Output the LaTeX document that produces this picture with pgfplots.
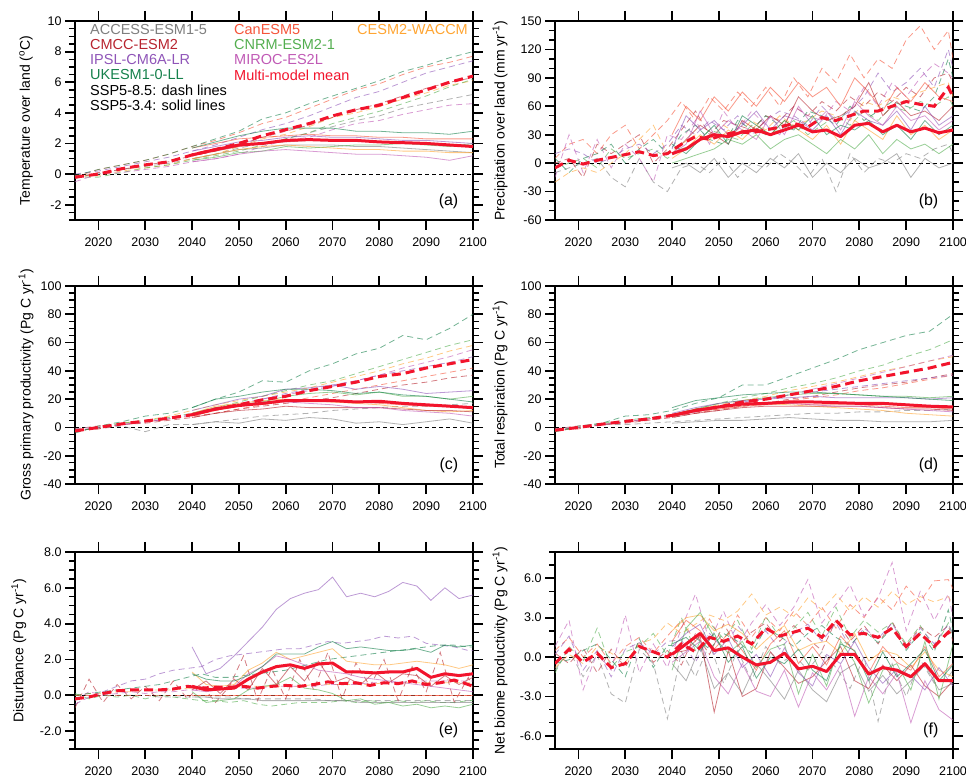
\documentclass[border=0pt]{standalone}
\usepackage{fontspec}
\setmainfont{Liberation Sans}
\usepackage{pgfplots}
\usepackage{pgfplotstable}
\pgfplotsset{compat=1.18}

\definecolor{cAC}{HTML}{7F7F7F}
\definecolor{cCAN}{HTML}{F5543A}
\definecolor{cCE}{HTML}{FFA532}
\definecolor{cCM}{HTML}{B7242F}
\definecolor{cCN}{HTML}{53AE4F}
\definecolor{cIP}{HTML}{8F55B8}
\definecolor{cMI}{HTML}{C05AB5}
\definecolor{cUK}{HTML}{16814C}
\definecolor{cMM}{HTML}{F2142C}

% ---------- (a) temperature ----------
\pgfplotstableread{
yr ac can ce cm cn ip mi uk mm
2015 -0.1 -0.2 -0.1 -0.3 -0.2 0.0 -0.5 -0.1 -0.2
2020 0.0 0.3 -0.1 0.1 -0.2 0.2 0.0 0.3 0.0
2025 0.3 0.6 0.2 0.3 0.1 0.5 0.1 0.6 0.35
2030 0.5 0.9 0.4 0.6 0.4 0.8 0.3 0.9 0.6
2035 0.7 1.3 0.6 0.8 0.6 1.1 0.5 1.3 0.8
2040 1.0 1.8 1.0 1.2 0.9 1.5 0.8 1.8 1.25
2045 1.3 2.2 1.3 1.5 1.2 1.9 1.0 2.3 1.6
2050 1.7 2.7 1.8 1.9 1.5 2.4 1.3 2.8 2.0
2055 2.0 3.3 2.3 2.4 1.9 2.9 1.8 3.6 2.5
2060 2.3 3.7 2.6 2.8 2.3 3.3 2.2 4.0 2.9
2065 2.7 4.3 3.1 3.2 2.7 3.8 2.4 4.6 3.3
2070 3.1 4.9 3.7 3.7 3.3 4.4 2.9 5.1 3.8
2075 3.5 5.5 4.0 4.2 3.7 5.0 3.3 5.6 4.2
2080 3.8 5.9 4.4 4.6 4.1 5.4 3.5 6.1 4.5
2085 4.3 6.5 4.9 5.1 4.6 6.0 3.9 6.7 5.0
2090 4.6 7.0 5.3 5.6 5.1 6.6 4.2 7.1 5.5
2095 4.9 7.3 5.8 6.0 5.7 7.0 4.5 7.6 6.0
2100 5.2 7.7 6.1 6.3 6.2 7.4 4.6 8.0 6.4
}\tasA
\pgfplotstableread{
yr ac can ce cm cn ip mi uk mm
2040 1.0 1.7 1.0 1.2 0.9 1.5 0.8 1.7 1.25
2045 1.3 2.0 1.3 1.5 1.1 1.8 1.0 2.1 1.6
2050 1.6 2.3 1.6 1.8 1.4 2.1 1.3 2.5 1.9
2055 1.7 2.4 1.8 2.0 1.5 2.2 1.5 2.8 2.0
2060 1.9 2.5 1.9 2.1 1.8 2.4 1.6 3.0 2.2
2065 1.9 2.6 1.8 2.2 1.7 2.5 1.5 3.0 2.25
2070 1.9 2.5 1.7 2.2 1.8 2.4 1.4 3.0 2.2
2075 1.8 2.5 1.6 2.2 1.9 2.4 1.3 2.8 2.2
2080 1.8 2.4 1.6 2.1 1.9 2.3 1.3 2.8 2.1
2085 1.7 2.4 1.5 2.1 2.0 2.2 1.2 2.7 2.05
2090 1.6 2.3 1.5 2.0 1.9 2.2 1.1 2.7 2.0
2095 1.5 2.3 1.4 1.9 1.8 2.1 0.9 2.6 1.9
2100 1.4 2.3 1.4 1.8 2.0 2.0 1.2 2.8 1.8
}\tbsA

% ---------- (b) precipitation ----------
\pgfplotstableread{
yr ac can ce cm cn ip mi uk mm
2015 -10 5 -20 0 -5 10 -15 5 -5
2018 -5 20 -10 5 0 15 30 -10 3
2021 0 25 -5 -15 5 10 -10 5 -1
2024 5 10 -10 20 -5 0 25 10 3
2027 -15 30 0 10 15 5 -5 20 6
2030 -25 40 10 20 5 15 20 0 9
2033 5 15 25 30 10 20 5 15 12
2036 -20 30 40 0 15 10 -20 25 8
2039 -30 45 10 15 5 20 30 10 10
2042 -5 65 20 35 15 40 25 30 20
2045 0 45 30 55 20 30 45 40 28
2048 -10 70 25 30 35 45 20 25 25
2051 5 55 40 45 30 35 55 20 30
2054 -15 75 30 40 25 50 35 45 33
2057 0 60 45 35 40 30 55 35 32
2060 -5 80 35 50 30 45 40 50 35
2063 10 60 50 45 35 55 30 40 38
2066 0 90 40 60 45 50 60 35 42
2069 -15 70 45 50 30 40 50 55 38
2072 5 100 55 65 40 60 45 50 48
2075 -30 85 50 55 50 45 65 40 45
2078 10 115 45 70 40 55 55 60 50
2081 -10 90 65 60 55 70 80 45 55
2084 5 110 60 75 45 95 60 55 55
2087 0 100 70 65 60 75 85 65 60
2090 10 130 65 80 55 85 70 60 65
2093 5 145 75 70 65 100 90 55 62
2096 15 120 80 90 60 80 105 70 60
2099 20 140 85 95 70 120 95 110 80
2100 10 110 70 85 60 100 90 90 70
}\tasB
\pgfplotstableread{
yr ac can ce cm cn ip mi uk mm
2040 -5 30 5 10 0 15 10 20 10
2043 0 60 15 25 5 50 20 10 15
2046 -10 45 30 40 10 35 55 25 25
2049 5 70 20 30 15 45 30 40 30
2052 -15 55 35 20 25 30 45 20 28
2055 0 75 25 45 20 40 35 50 33
2058 -10 60 40 35 30 55 25 40 35
2061 5 80 30 50 15 35 50 30 30
2064 -5 65 45 40 25 50 30 45 35
2067 10 85 35 70 30 45 60 35 40
2070 -15 70 25 55 20 35 40 50 33
2073 0 80 40 45 10 50 55 30 35
2076 -10 60 20 50 25 30 35 40 28
2079 5 90 45 60 15 55 65 35 40
2082 -5 75 35 85 30 45 50 45 42
2085 0 55 25 50 10 40 40 30 33
2088 10 80 50 65 25 55 60 40 40
2091 -15 65 30 50 15 35 45 25 33
2094 5 85 40 55 20 60 50 45 37
2097 -5 70 25 45 10 40 35 30 32
2100 0 65 35 60 20 50 45 40 35
}\tbsB

% ---------- (c) GPP ----------
\pgfplotstableread{
yr ac can ce cm cn ip mi uk mm
2015 -2 -3 -1 -2 -3 -1 -2 -4 -2.5
2020 -1 0 1 -1 0 1 0 1 0
2025 1 2 3 2 3 2 2 4 2.5
2030 -3 4 5 3 5 4 4 8 4.5
2035 2 6 8 5 7 6 6 10 6.5
2040 2 8 12 7 10 9 9 14 9
2045 4 10 16 10 14 13 12 20 13
2050 6 13 19 13 18 17 16 25 16
2055 8 16 22 15 22 20 20 33 19.5
2060 9 18 25 17 26 24 23 32 22
2065 10 21 28 19 30 27 26 40 26
2070 12 24 32 21 33 30 29 45 29
2075 13 27 36 24 38 33 33 52 32
2080 14 30 40 27 43 37 37 56 36
2085 15 33 45 30 48 40 42 65 38
2090 15 36 49 32 53 43 46 62 42
2095 16 39 54 35 58 46 50 70 45
2100 17 42 58 37 62 50 55 80 48
}\tasC
\pgfplotstableread{
yr ac can ce cm cn ip mi uk mm
2040 2 8 10 7 10 12 9 14 9
2045 4 12 15 10 14 16 13 20 13
2050 3 15 17 12 16 20 15 22 15.5
2055 6 17 19 13 18 22 17 25 17
2060 5 19 20 15 22 27 18 27 19
2065 7 19 19 14 24 28 17 27 19
2070 6 18 18 14 25 30 16 26 19
2075 3 18 17 14 23 27 14 24 18
2080 4 17 16 14 25 29 14 25 18.5
2085 2 16 14 13 22 27 12 23 17
2090 4 15 12 12 22 24 11 22 16
2095 6 15 11 12 20 25 10 20 15
2100 3 13 12 11 22 26 8 18 14
}\tbsC

% ---------- (d) respiration ----------
\pgfplotstableread{
yr ac can ce cm cn ip mi uk mm
2015 -2 -2 -1 -2 -3 -1 -2 -3 -2
2020 0 0 1 -1 0 1 0 1 0
2025 2 2 2 2 3 2 2 3 2.3
2030 2 4 4 3 5 4 4 8 4.3
2035 3 6 6 5 7 6 6 9 6
2040 4 8 9 7 9 9 8 12 8.5
2045 5 10 13 10 13 12 11 17 12
2050 6 13 16 12 17 15 14 21 14.5
2055 7 15 19 15 21 18 17 30 18
2060 8 17 22 17 24 20 20 30 20
2065 9 19 26 20 28 23 23 36 23
2070 10 21 29 22 31 25 27 42 26
2075 10 23 32 25 35 27 31 48 29
2080 11 26 36 28 40 29 35 55 33
2085 11 28 40 30 44 31 39 60 36
2090 12 31 43 32 50 33 43 65 39
2095 12 34 47 35 55 35 47 68 42
2100 13 37 50 38 62 37 51 80 46
}\tasD
\pgfplotstableread{
yr ac can ce cm cn ip mi uk mm
2040 3 8 9 7 9 10 8 14 8.5
2045 4 11 13 10 13 14 11 19 12
2050 5 13 15 12 17 17 14 21 14.5
2055 5 15 17 14 19 19 16 23 16.5
2060 6 16 17 15 21 20 17 24 17
2065 7 17 16 15 23 21 17 25 18
2070 6 16 15 15 24 22 16 25 18
2075 5 16 14 15 24 21 15 24 17.5
2080 5 16 13 15 23 21 15 23 17
2085 4 15 12 14 22 21 14 22 17
2090 4 14 10 13 22 21 13 21 16
2095 4 14 9 13 21 20 12 20 15
2100 5 13 8 12 22 21 11 19 14.5
}\tbsD

% ---------- (e) disturbance ----------
\pgfplotstableread{
yr ac can ce cm cn ip mi uk mm
2015 0.0 0 0.0 -0.7 0.1 -0.5 -0.3 0.0 -0.2
2018 0.0 0 0.1 0.9 -0.2 -0.1 0.2 0.1 -0.1
2021 0.0 0 0.1 -0.4 0.0 0.2 0.0 0.2 0.1
2024 0.0 0 0.2 0.6 -0.1 0.5 0.1 0.3 0.25
2027 0.0 0 0.2 -0.2 0.0 0.8 0.2 0.4 0.3
2030 0.0 0 0.3 0.5 -0.2 0.9 0.1 0.5 0.3
2033 -0.1 0 0.3 -0.3 0.0 1.2 0.2 0.6 0.3
2036 -0.1 0 0.3 0.8 -0.1 1.4 0.2 0.8 0.35
2039 -0.1 0 0.4 -0.2 -0.2 1.5 0.3 1.0 0.5
2042 -0.1 0 0.4 0.6 -0.3 1.6 0.3 1.2 0.4
2045 -0.1 0 0.4 -0.4 -0.3 2.0 0.3 1.0 0.45
2048 -0.1 0 0.4 0.5 -0.4 2.2 0.4 1.0 0.45
2051 -0.2 0 0.5 2.2 -0.3 2.3 0.4 1.1 0.5
2054 -0.2 0 0.5 -0.3 -0.5 2.4 0.4 1.2 0.4
2057 -0.2 0 0.5 1.5 -0.6 2.5 0.5 1.3 0.5
2060 -0.2 0 0.5 -0.2 -0.5 2.6 0.5 1.4 0.55
2063 -0.2 0 0.5 2.0 -0.4 2.6 0.5 1.6 0.5
2066 -0.2 0 0.6 0.3 -0.4 2.8 0.5 1.8 0.6
2069 -0.3 0 0.6 2.4 -0.4 3.0 0.6 2.0 0.75
2072 -0.3 0 0.6 -0.2 -0.3 2.9 0.6 2.1 0.65
2075 -0.3 0 0.6 1.8 -0.4 3.0 0.6 2.2 0.7
2078 -0.3 0 0.6 0.5 -0.3 3.1 0.7 2.3 0.55
2081 -0.3 0 0.7 2.0 -0.4 3.3 0.7 2.4 0.7
2084 -0.3 0 0.7 -0.3 -0.3 3.2 0.7 2.5 0.65
2087 -0.3 0 0.7 1.6 -0.4 3.3 0.8 2.6 0.8
2090 -0.3 0 0.7 0.2 -0.3 2.9 0.8 2.7 0.6
2093 -0.3 0 0.7 2.4 -0.4 2.8 0.8 2.8 0.7
2096 -0.3 0 0.7 -0.4 -0.4 2.7 0.8 2.8 0.85
2099 -0.3 0 0.7 1.0 -0.3 2.5 0.8 2.7 0.6
2100 -0.3 0 0.7 0.4 -0.3 2.5 0.8 2.7 0.5
}\tasE
\pgfplotstableread{
yr ac can ce cm cn ip mi uk mm
2040 -0.1 0 1.3 0.3 0.2 2.7 0.3 1.2 0.5
2043 -0.1 0 0.6 0.8 -0.4 1.2 0.2 0.9 0.3
2046 -0.2 0 0.5 0.1 -0.3 1.5 0.3 0.8 0.35
2049 -0.2 0 0.6 0.9 -0.2 2.2 0.5 0.8 0.4
2052 -0.2 0 1.4 0.3 0.3 3.0 1.2 1.1 0.9
2055 -0.3 0 1.8 1.5 0.5 3.8 1.6 1.6 1.3
2058 -0.3 0 2.4 0.6 0.6 4.8 2.2 2.3 1.6
2061 -0.3 0 2.0 1.6 1.0 5.4 2.0 2.3 1.7
2064 -0.3 0 2.2 0.8 0.4 5.7 1.7 2.3 1.5
2067 -0.3 0 2.4 1.9 0.3 5.9 1.4 2.7 1.75
2070 -0.3 0 2.6 0.7 0.1 6.6 1.3 3.0 1.8
2073 -0.3 0 1.9 1.0 -0.3 5.5 1.2 2.6 1.3
2076 -0.4 0 1.8 0.6 -0.2 5.7 1.0 2.7 1.3
2079 -0.4 0 1.7 1.3 -0.5 5.5 0.9 2.6 1.25
2082 -0.4 0 1.7 0.7 -0.4 5.8 0.8 2.5 1.3
2085 -0.4 0 1.8 1.2 -0.6 6.3 0.7 2.5 1.3
2088 -0.4 0 1.9 1.1 -0.5 6.1 0.6 2.6 1.5
2091 -0.4 0 1.8 0.5 -0.7 5.3 0.5 2.4 1.0
2094 -0.4 0 1.7 1.1 -0.6 6.0 0.4 2.8 1.2
2097 -0.4 0 1.5 0.6 -0.7 5.4 0.3 2.7 1.1
2100 -0.4 0 1.7 1.0 -0.5 5.6 0.2 2.8 1.2
}\tbsE

% ---------- (f) NBP ----------
\pgfplotstableread{
yr ac can ce cm cn ip mi uk mm
2015 -1.0 0.5 -0.8 0.3 -1.2 0.2 0.8 -0.5 -0.5
2018 0.5 1.5 0.2 -0.5 0.8 1.6 2.8 -0.2 0.6
2021 -1.5 0.0 -0.5 0.7 -0.3 -1.0 -2.5 0.5 -0.4
2024 0.2 1.0 0.8 -1.2 2.2 0.5 0.3 1.0 0.3
2027 -2.8 -0.5 0.3 0.6 -0.8 -1.5 -1.0 -0.2 -0.8
2030 -3.5 0.8 -0.4 -0.8 0.4 0.6 3.2 -1.5 -0.5
2033 0.6 1.5 1.0 1.2 0.8 1.1 -1.2 1.4 0.8
2036 -0.5 0.3 1.4 -0.4 1.8 0.2 1.0 -0.8 0.4
2039 -4.7 1.6 2.6 0.5 0.1 1.2 -0.8 0.9 0.0
2042 0.4 2.8 1.8 -0.6 3.0 1.3 2.2 0.8 1.0
2045 -1.5 1.2 2.5 1.8 0.5 -0.4 4.8 1.5 0.4
2048 1.0 2.9 3.2 0.2 2.6 1.8 1.2 0.6 1.5
2051 -2.0 1.0 2.8 2.5 1.4 0.6 3.5 1.8 1.2
2054 0.5 3.2 3.5 0.8 2.8 2.4 0.9 1.2 1.6
2057 -1.8 1.5 4.8 1.9 0.6 1.0 2.6 0.3 1.0
2060 0.8 3.0 3.2 2.6 3.1 2.0 4.0 2.2 2.2
2063 -0.5 2.0 3.8 1.2 1.5 0.6 2.4 1.6 1.6
2066 0.2 3.5 3.1 2.4 2.2 1.8 3.8 0.8 1.9
2069 -1.0 2.4 4.5 1.4 3.4 2.5 5.9 1.8 2.2
2072 0.4 3.8 3.6 0.5 1.6 1.2 2.6 2.4 1.5
2075 -0.8 2.2 4.8 2.8 3.8 2.6 4.0 1.5 2.8
2078 -2.4 4.0 3.5 1.2 1.5 0.8 5.5 0.9 1.7
2081 0.0 3.0 4.6 2.4 2.8 2.2 3.1 2.0 1.8
2084 -4.9 4.6 3.8 1.0 1.9 1.4 4.5 1.1 1.5
2087 -0.5 3.6 5.0 2.7 2.6 2.6 7.2 2.2 2.2
2090 -3.0 5.4 4.0 0.8 1.0 0.6 2.0 0.5 0.8
2093 -0.2 4.2 4.6 2.3 2.4 2.2 5.0 1.9 1.8
2096 -2.0 5.8 4.2 1.5 0.7 1.0 2.8 0.4 0.8
2099 -1.5 5.9 4.6 2.4 2.6 2.5 4.8 3.6 1.9
2100 -1.0 5.2 4.0 1.2 1.5 1.8 3.0 2.0 1.5
}\tasF
\pgfplotstableread{
yr ac can ce cm cn ip mi uk mm
2040 -0.5 1.2 2.0 0.3 -1.0 0.8 -0.4 1.0 0.2
2043 -1.8 2.8 3.0 0.5 2.2 1.8 0.4 1.5 1.0
2046 0.8 2.0 3.2 1.6 3.4 2.5 1.2 0.5 1.8
2049 -2.4 0.6 2.0 -4.2 1.5 0.2 -1.5 1.8 0.5
2052 -1.2 1.8 2.5 0.5 0.3 1.4 -2.8 -0.4 0.7
2055 -2.8 0.5 1.8 -3.0 1.2 -0.8 -0.5 0.8 0.0
2058 -0.5 -1.0 0.6 -2.4 -0.8 0.2 -2.6 -1.6 -0.6
2061 -1.8 1.0 1.6 0.4 0.6 -1.5 -3.0 0.0 -0.4
2064 -3.2 2.0 2.4 -0.8 1.0 0.7 -1.0 -0.5 0.3
2067 -1.0 -0.5 0.5 -2.0 -2.8 -1.2 -3.8 0.6 -0.9
2070 -2.5 0.8 1.0 -1.5 0.2 -2.2 -1.2 -1.0 -0.7
2073 -3.4 -0.6 1.2 -0.3 -2.2 0.2 -2.5 -1.8 -1.1
2076 -1.2 1.6 0.3 0.8 1.2 -0.5 -0.6 1.0 0.2
2079 -0.5 0.4 1.8 -1.8 -0.4 1.2 -4.5 0.5 0.2
2082 -2.6 -1.2 -0.3 -2.4 -3.5 -0.8 -1.5 -1.8 -1.3
2085 -1.4 0.8 0.5 -0.6 -1.0 -2.0 -2.8 0.4 -0.8
2088 -2.8 -0.4 0.2 -1.8 -0.5 -0.9 -1.2 -1.5 -1.0
2091 -1.8 -1.0 -0.8 -0.6 -2.5 -1.4 -5.0 -0.5 -1.5
2094 -0.6 0.8 0.4 -2.2 1.2 -2.5 -1.8 0.6 -0.5
2097 -2.5 -1.5 -1.0 -3.0 -3.2 -0.8 -4.0 -1.8 -1.8
2100 -2.0 -0.5 -1.5 -1.8 1.0 -2.2 -4.8 -0.6 -1.8
}\tbsF

\pgfplotsset{
  m85/.style={line width=0.8pt, opacity=0.6, dash pattern=on 6pt off 4pt},
  m34/.style={line width=0.8pt, opacity=0.6},
  mean85/.style={cMM, line width=3pt, dash pattern=on 9pt off 5pt},
  mean34/.style={cMM, line width=3pt, line join=round},
  panel/.style={
    scale only axis, width=398pt, height=198pt,
    xmin=2015, xmax=2100,
    xtick={2020,2030,...,2100},
    no markers,
    tick pos=both, tick align=outside,
    major tick length=10pt, minor tick length=6pt,
    every tick/.style={black},
    major tick style={line width=1.8pt},
    minor tick style={line width=1.4pt},
    axis line style={line width=1.8pt},
    ticklabel style={font=\fontsize{12.5}{14}\selectfont},
    xticklabel style={yshift=-4pt},
    /pgf/number format/assume math mode=true,
    /pgf/number format/1000 sep={},
    every axis y label/.style={at={(axis description cs:-0.123,0.5)}, rotate=90, anchor=center,
      font=\fontsize{14}{16}\selectfont},
  },
}

\newcommand\drawall[2]{%
  \addplot[black, line width=0.7pt, dash pattern=on 4pt off 3pt] coordinates {(2015,0) (2100,0)};
  \addplot[m85, cAC] table[x=yr,y=ac]{#1};
  \addplot[m85, cCAN] table[x=yr,y=can]{#1};
  \addplot[m85, cCE] table[x=yr,y=ce]{#1};
  \addplot[m85, cCM] table[x=yr,y=cm]{#1};
  \addplot[m85, cCN] table[x=yr,y=cn]{#1};
  \addplot[m85, cIP] table[x=yr,y=ip]{#1};
  \addplot[m85, cMI] table[x=yr,y=mi]{#1};
  \addplot[m85, cUK] table[x=yr,y=uk]{#1};
  \addplot[m34, cAC] table[x=yr,y=ac]{#2};
  \addplot[m34, cCAN] table[x=yr,y=can]{#2};
  \addplot[m34, cCE] table[x=yr,y=ce]{#2};
  \addplot[m34, cCM] table[x=yr,y=cm]{#2};
  \addplot[m34, cCN] table[x=yr,y=cn]{#2};
  \addplot[m34, cIP] table[x=yr,y=ip]{#2};
  \addplot[m34, cMI] table[x=yr,y=mi]{#2};
  \addplot[m34, cUK] table[x=yr,y=uk]{#2};
  \addplot[mean85] table[x=yr,y=mm]{#1};
  \addplot[mean34] table[x=yr,y=mm]{#2};
}
\newcommand\plab[1]{\node[anchor=east, font=\fontsize{16}{18}\selectfont] at (rel axis cs:0.972,0.095) {#1};}

\begin{document}
\begin{tikzpicture}[x=1pt, y=1pt]
\useasboundingbox (0,0) rectangle (966,782);

% (a)
\begin{axis}[panel, at={(75pt,562pt)}, anchor=south west, height=199pt,
  ymin=-3, ymax=10, ytick={-2,0,...,10}, minor ytick={-3,-2.5,...,10},
  ylabel={Temperature over land (\textsuperscript{o}C)}]
\drawall{\tasA}{\tbsA}
\plab{(a)}
\end{axis}

% (b)
\begin{axis}[panel, at={(555pt,562pt)}, anchor=south west, height=199pt,
  ymin=-60, ymax=150, ytick={-60,-30,...,150}, minor ytick={-60,-50,...,150},
  every axis y label/.append style={at={(axis description cs:-0.138,0.5)}},
  ylabel={Precipitation over land (mm yr\textsuperscript{-1})}]
\drawall{\tasB}{\tbsB}
\plab{(b)}
\end{axis}

% (c)
\begin{axis}[panel, at={(75pt,298pt)}, anchor=south west,
  ymin=-40, ymax=100, ytick={-40,-20,...,100}, minor ytick={-40,-35,...,100},
  ylabel={Gross primary productivity (Pg C yr\textsuperscript{-1})}]
\drawall{\tasC}{\tbsC}
\plab{(c)}
\end{axis}

% (d)
\begin{axis}[panel, at={(555pt,298pt)}, anchor=south west,
  ymin=-40, ymax=100, ytick={-40,-20,...,100}, minor ytick={-40,-35,...,100},
  every axis y label/.append style={at={(axis description cs:-0.138,0.5)}},
  ylabel={Total respiration (Pg C yr\textsuperscript{-1})}]
\drawall{\tasD}{\tbsD}
\plab{(d)}
\end{axis}

% (e)
\begin{axis}[panel, at={(75pt,33pt)}, anchor=south west, height=197pt,
  ymin=-3, ymax=8, ytick={-2,0,...,8}, minor ytick={-3,-2.5,...,8},
  yticklabel style={/pgf/number format/.cd, fixed, fixed zerofill, precision=1},
  every axis y label/.append style={at={(axis description cs:-0.141,0.5)}},
  ylabel={Disturbance (Pg C yr\textsuperscript{-1})}]
\drawall{\tasE}{\tbsE}
\plab{(e)}
\end{axis}

% (f)
\begin{axis}[panel, at={(555pt,33pt)}, anchor=south west, height=197pt,
  ymin=-7, ymax=8, ytick={-6,-3,...,6}, minor ytick={-7,-6,...,8},
  yticklabel style={/pgf/number format/.cd, fixed, fixed zerofill, precision=1},
  every axis y label/.append style={at={(axis description cs:-0.138,0.5)}},
  ylabel={Net biome productivity (Pg C yr\textsuperscript{-1})}]
\drawall{\tasF}{\tbsF}
\plab{(f)}
\end{axis}

% legend text of panel (a)
\begin{scope}[every node/.style={anchor=west, inner sep=0pt, font=\fontsize{14.5}{16}\selectfont}]
\node[text=cAC]  at (90,752) {ACCESS-ESM1-5};
\node[text=cCM]  at (90,737) {CMCC-ESM2};
\node[text=cIP]  at (90,722) {IPSL-CM6A-LR};
\node[text=cUK]  at (90,707) {UKESM1-0-LL};
\node[text=black] at (90,692) {SSP5-8.5: dash lines};
\node[text=black] at (90,677) {SSP5-3.4: solid lines};
\node[text=cCAN] at (234,752) {CanESM5};
\node[text=cCN]  at (234,737) {CNRM-ESM2-1};
\node[text=cMI]  at (234,722) {MIROC-ES2L};
\node[text=cMM]  at (234,707) {Multi-model mean};
\node[text=cCE]  at (357,752) {CESM2-WACCM};
\end{scope}
\end{tikzpicture}
\end{document}
